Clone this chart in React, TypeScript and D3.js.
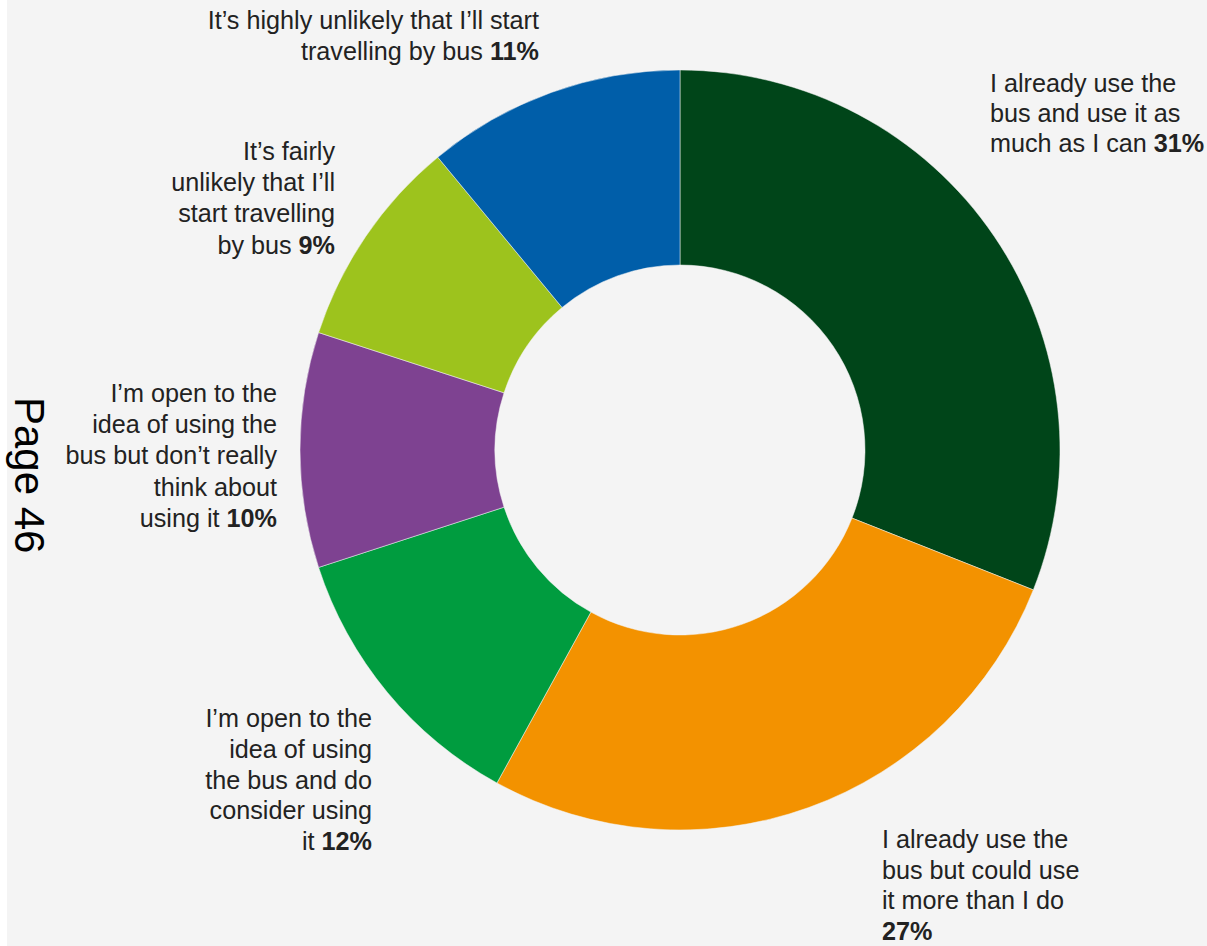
import React from "react";
import * as d3 from "d3";

const categories = [
  "I already use the bus and use it as much as I can",
  "I already use the bus but could use it more than I do",
  "I'm open to the idea of using the bus and do consider using it",
  "I'm open to the idea of using the bus but don't really think about using it",
  "It's fairly unlikely that I'll start travelling by bus",
  "It's highly unlikely that I'll start travelling by bus",
];
const values = [31, 27, 12, 10, 9, 11];
const colors = ["#004519", "#f39200", "#009c3f", "#7e4291", "#9dc31d", "#005ea9"];
const labelLines = [
  ["I already use the", "bus and use it as", "much as I can"],
  ["I already use the", "bus but could use", "it more than I do", ""],
  ["I\u2019m open to the", "idea of using", "the bus and do", "consider using", "it"],
  ["I\u2019m open to the", "idea of using the", "bus but don\u2019t really", "think about", "using it"],
  ["It\u2019s fairly", "unlikely that I\u2019ll", "start travelling", "by bus"],
  ["It\u2019s highly unlikely that I\u2019ll start", "travelling by bus"],
];
const pageLabel = "Page 46";

// layout (positions only)
const labelLayout = [
  { x: 990, y: 92, anchor: "start", dy: 30.2 },
  { x: 882, y: 848, anchor: "start", dy: 30.7 },
  { x: 372, y: 727, anchor: "end", dy: 30.8 },
  { x: 277, y: 402, anchor: "end", dy: 31.2 },
  { x: 335, y: 160, anchor: "end", dy: 31.2 },
  { x: 539, y: 29, anchor: "end", dy: 31 },
];

export default function App() {
  const W = 1207;
  const H = 946;
  const cx = 680;
  const cy = 450;
  const outerR = 380;
  const innerR = 185;
  const pie = d3.pie<number>().sort(null).value((d) => d);
  const arcs = pie(values);
  const arc = d3.arc<d3.PieArcDatum<number>>().innerRadius(innerR).outerRadius(outerR);
  const font = "'Liberation Sans', Arial, Helvetica, sans-serif";
  return (
    <svg
      width={W}
      height={H}
      style={{ position: "fixed", left: 0, top: 0, display: "block" }}
    >
      <rect x={0} y={0} width={W} height={H} fill="#ffffff" />
      <rect x={7} y={0} width={W - 7} height={H} fill="#f4f4f4" />
      <g transform={`translate(${cx},${cy})`}>
        {arcs.map((a, i) => (
          <path key={categories[i]} d={arc(a) || ""} fill={colors[i]} stroke="#f4f4f4" strokeWidth={0.5} />
        ))}
      </g>
      {labelLines.map((lines, i) => {
        const L = labelLayout[i];
        return (
          <text
            key={i}
            x={L.x}
            y={L.y}
            textAnchor={L.anchor as any}
            fontFamily={font}
            fontSize={25.2}
            fill="#222222"
          >
            {lines.map((ln, j) => {
              const last = j === lines.length - 1;
              return (
                <tspan key={j} x={L.x} y={L.y + j * L.dy}>
                  {ln}
                  {last ? (
                    <tspan fontWeight="bold">{(ln ? " " : "") + values[i] + "%"}</tspan>
                  ) : null}
                </tspan>
              );
            })}
          </text>
        );
      })}
      <text
        transform="translate(15,397) rotate(90)"
        fontFamily={font}
        fontSize={42}
        fill="#000000"
      >
        {pageLabel}
      </text>
    </svg>
  );
}
